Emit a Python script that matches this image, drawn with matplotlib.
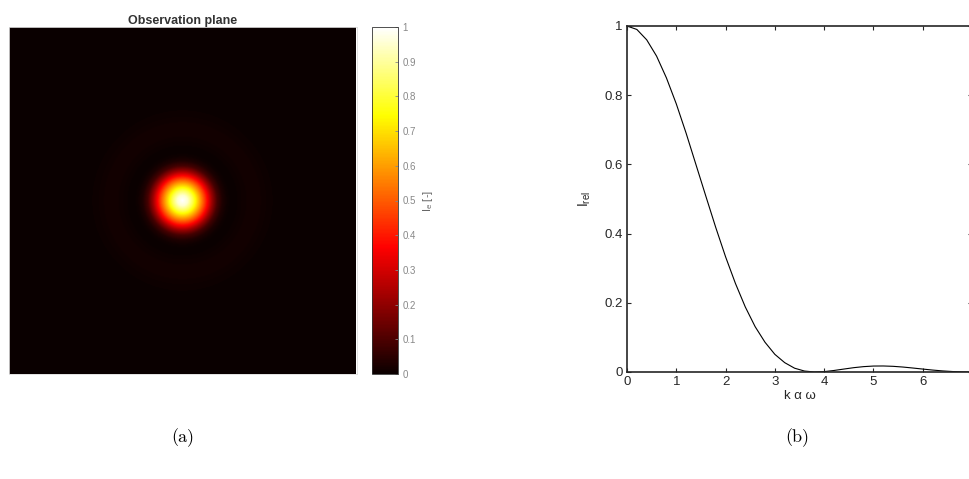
import numpy as np
import matplotlib
matplotlib.use('Agg')
import matplotlib.pyplot as plt

plt.rcParams['font.family'] = ['Liberation Sans', 'DejaVu Sans']
plt.rcParams['mathtext.fontset'] = 'custom'
plt.rcParams['mathtext.rm'] = 'Liberation Sans'

# Perfil radial del patrón (radio en fracción de la media anchura de la imagen)
radio_perfil = [0.0, 0.03, 0.06, 0.09, 0.12, 0.145, 0.17, 0.20, 0.23, 0.26, 0.29,
                0.32, 0.35, 0.38, 0.41, 0.45, 0.49, 0.53, 0.60, 1.5]
intensidad_perfil = [1.0, 0.95, 0.82, 0.66, 0.50, 0.36, 0.22, 0.09, 0.03, 0.006, 0.0,
                     0.004, 0.009, 0.013, 0.014, 0.012, 0.007, 0.003, 0.0, 0.0]

# Curva de intensidad relativa (b)
x_curva = [0.0, 0.2, 0.4, 0.6, 0.8, 1.0, 1.2, 1.4, 1.6, 1.8, 2.0, 2.2, 2.4, 2.6,
           2.8, 3.0, 3.2, 3.4, 3.6, 3.8, 4.0, 4.2, 4.4, 4.6, 4.8, 5.0, 5.2, 5.4,
           5.6, 5.8, 6.0, 6.2, 6.4, 6.6, 6.8, 7.0, 7.2]
i_rel = [1.0, 0.990, 0.960, 0.913, 0.850, 0.775, 0.690, 0.599, 0.508, 0.418,
         0.333, 0.256, 0.188, 0.131, 0.086, 0.051, 0.027, 0.011, 0.0028, 0.0001,
         0.0011, 0.0044, 0.0085, 0.0125, 0.0155, 0.0172, 0.0174, 0.0164, 0.0143,
         0.0115, 0.0085, 0.0056, 0.0032, 0.0014, 0.0004, 0.0, 0.0002]

ticks_x = [0, 1, 2, 3, 4, 5, 6, 7]
ticks_y = [0, 0.2, 0.4, 0.6, 0.8, 1]
ticks_cb = [0, 0.1, 0.2, 0.3, 0.4, 0.5, 0.6, 0.7, 0.8, 0.9, 1]

W, H = 970, 479
fig = plt.figure(figsize=(W / 100, H / 100), dpi=100)

def caja(x0, y0, x1, y1):
    # convierte píxeles (desde arriba) a fracción de figura
    return [x0 / W, 1 - y1 / H, (x1 - x0) / W, (y1 - y0) / H]

gris = '#262626'

# ---- (a) plano de observación ----
ax_img = fig.add_axes(caja(8, 27, 358, 374))
n = 351
u = np.linspace(-1, 1, n)
xx, yy = np.meshgrid(u, u)
rr = np.hypot(xx, yy)
campo = np.interp(rr, radio_perfil, intensidad_perfil)
im = ax_img.imshow(campo, cmap='hot', vmin=0, vmax=1, extent=[-1, 1, -1, 1],
                   interpolation='bilinear')
ax_img.set_xticks([])
ax_img.set_yticks([])
for s in ax_img.spines.values():
    s.set_color('#dddddd')
    s.set_linewidth(0.6)
ax_img.set_title('Observation plane', fontsize=9, fontweight='bold', color='#333333', pad=1)

ax_cb = fig.add_axes(caja(372, 27, 398, 374))
cb = fig.colorbar(im, cax=ax_cb, ticks=ticks_cb)
cb.ax.set_yticklabels(['0', '0.1', '0.2', '0.3', '0.4', '0.5', '0.6', '0.7', '0.8', '0.9', '1'])
cb.ax.tick_params(labelsize=7, colors='#888888', length=2, width=0.6, direction='in', pad=3)
cb.outline.set_edgecolor('#333333')
cb.outline.set_linewidth(0.6)
cb.set_label(r'$\mathregular{I_e}$ [-]', fontsize=8, color='#666666', labelpad=4)

# ---- (b) curva ----
ax = fig.add_axes(caja(627, 26, 972, 372))
ax.plot(x_curva, i_rel, color='black', linewidth=0.8)
ax.set_xlim(0, 7)
ax.set_ylim(0, 1)
ax.set_xticks(ticks_x)
ax.set_yticks(ticks_y)
ax.set_xticklabels(['0', '1', '2', '3', '4', '5', '6', '7'])
ax.set_yticklabels(['0', '0.2', '0.4', '0.6', '0.8', '1'])
ax.tick_params(direction='in', top=True, right=True, length=3, width=0.8,
               labelsize=9.5, colors=gris, pad=3)
for s in ax.spines.values():
    s.set_color(gris)
    s.set_linewidth(1.2)
ax.set_xlabel('k α ω', fontsize=9.5, color=gris, labelpad=1)
ax.set_ylabel(r'$\mathregular{I_{rel}}$', fontsize=10, color=gris, labelpad=8)

# Etiquetas de subfigura
fig.text(183 / W, 1 - 438 / H, '(a)', fontsize=13, family='cmr10', ha='center', va='center')
fig.text(797 / W, 1 - 438 / H, '(b)', fontsize=13, family='cmr10', ha='center', va='center')

plt.savefig('out.png', dpi=100, facecolor='white')
